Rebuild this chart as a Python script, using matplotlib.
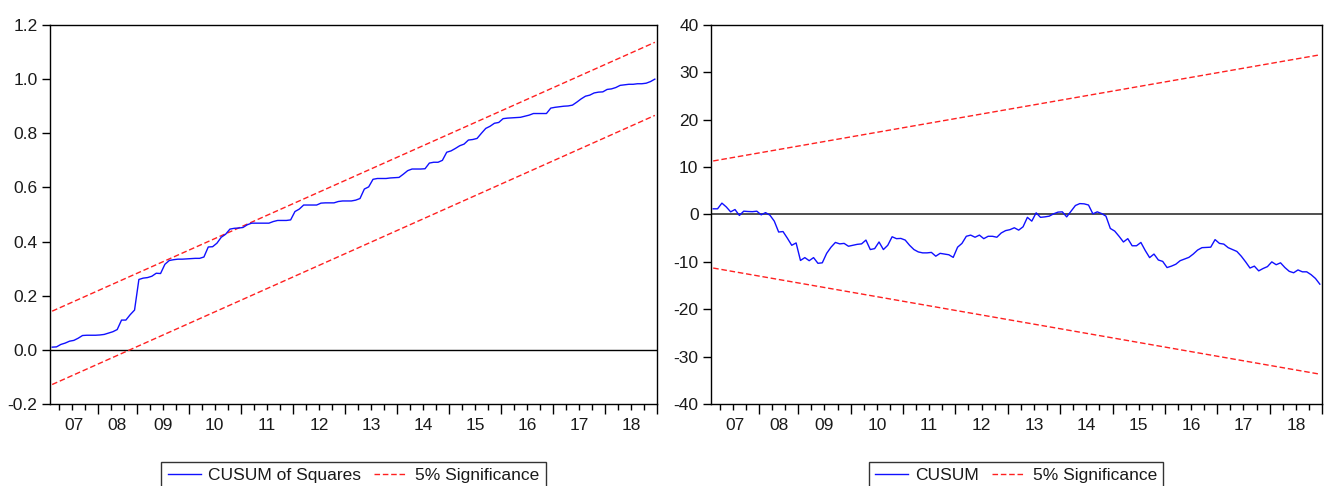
import numpy as np
import matplotlib
matplotlib.use("Agg")
import matplotlib.pyplot as plt
from matplotlib.lines import Line2D

plt.rcParams['font.family'] = ['Liberation Sans', 'DejaVu Sans']
plt.rcParams['axes.unicode_minus'] = False

# ---------------- data ----------------
year_labels = ["07", "08", "09", "10", "11", "12", "13", "14", "15", "16", "17", "18"]
# observation index at which each new year starts (end of sample = 140)
year_starts = [11, 20, 32, 44, 56, 68, 80, 92, 104, 116, 128, 140]
n_obs = 140

cusum_sq = [0.010, 0.011, 0.020, 0.025, 0.032, 0.035, 0.043, 0.053, 0.054, 0.054,
            0.054, 0.055, 0.057, 0.062, 0.067, 0.075, 0.110, 0.110, 0.130, 0.147,
            0.260, 0.265, 0.267, 0.272, 0.283, 0.282, 0.316, 0.330, 0.333, 0.335,
            0.335, 0.336, 0.337, 0.338, 0.338, 0.343, 0.380, 0.381, 0.394, 0.416,
            0.427, 0.446, 0.449, 0.450, 0.452, 0.462, 0.468, 0.468, 0.468, 0.468,
            0.468, 0.474, 0.478, 0.478, 0.478, 0.480, 0.511, 0.520, 0.535, 0.535,
            0.535, 0.535, 0.542, 0.543, 0.543, 0.543, 0.548, 0.550, 0.550, 0.550,
            0.553, 0.559, 0.594, 0.602, 0.630, 0.633, 0.633, 0.633, 0.635, 0.636,
            0.637, 0.649, 0.662, 0.668, 0.668, 0.668, 0.669, 0.690, 0.693, 0.693,
            0.700, 0.730, 0.735, 0.744, 0.754, 0.760, 0.775, 0.777, 0.781, 0.800,
            0.818, 0.826, 0.837, 0.840, 0.854, 0.856, 0.857, 0.858, 0.859, 0.863,
            0.867, 0.873, 0.873, 0.873, 0.873, 0.893, 0.896, 0.898, 0.900, 0.901,
            0.904, 0.915, 0.927, 0.937, 0.941, 0.949, 0.952, 0.953, 0.962, 0.964,
            0.969, 0.977, 0.979, 0.981, 0.981, 0.983, 0.983, 0.985, 0.991, 1.000]
cusum_sq_upper = [0.143, 1.136]   # start, end of straight 5% band
cusum_sq_lower = [-0.128, 0.866]

cusum = [1.2, 1.2, 2.4, 1.6, 0.56, 1.05, -0.2, 0.7, 0.63, 0.6,
         0.7, -0.07, 0.4, -0.14, -1.4, -3.7, -3.6, -5.0, -6.5, -6.0,
         -9.7, -9.1, -9.75, -9.1, -10.3, -10.2, -8.2, -6.9, -5.9, -6.2,
         -6.1, -6.7, -6.5, -6.3, -6.2, -5.4, -7.4, -7.2, -5.8, -7.4,
         -6.5, -4.7, -5.1, -5.05, -5.4, -6.5, -7.4, -7.9, -8.1, -8.1,
         -8.0, -8.8, -8.2, -8.35, -8.5, -9.05, -6.9, -6.1, -4.6, -4.35,
         -4.8, -4.35, -5.1, -4.6, -4.6, -4.8, -3.9, -3.4, -3.2, -2.8,
         -3.3, -2.6, -0.6, -1.4, 0.35, -0.6, -0.5, -0.35, 0.14, 0.5,
         0.56, -0.5, 0.7, 1.9, 2.3, 2.25, 2.0, 0.14, 0.56, 0.2,
         -0.35, -2.95, -3.5, -4.6, -5.8, -5.1, -6.6, -6.6, -5.9, -7.6,
         -9.1, -8.35, -9.6, -9.9, -11.2, -10.9, -10.5, -9.75, -9.4, -9.05,
         -8.35, -7.5, -7.0, -6.95, -6.9, -5.3, -6.1, -6.25, -7.0, -7.4,
         -7.8, -8.8, -10.0, -11.3, -10.9, -11.9, -11.4, -11.0, -10.0, -10.6,
         -10.2, -11.2, -12.0, -12.3, -11.7, -12.1, -12.1, -12.7, -13.5, -14.7]
cusum_upper = [11.3, 33.7]
cusum_lower = [-11.3, -33.7]

# ---------------- figure ----------------
W, H = 1325, 486
fig = plt.figure(figsize=(W / 100, H / 100), dpi=100)

def fbox(x0, x1, ytop, ybot):
    return [x0 / W, 1 - ybot / H, (x1 - x0) / W, (ybot - ytop) / H]

ax1 = fig.add_axes(fbox(50, 657, 25, 404))
ax2 = fig.add_axes(fbox(711, 1322, 25, 404))

x = np.arange(n_obs) + 0.5
xe = [x[0], x[-1]]

blue = '#1010ff'
red = '#ff2020'
dash = (0, (4, 2))
txt = '#1a1a1a'

def style(ax, yticks, fmt, zero_color, zero_lw):
    ax.set_xlim(0, n_obs)
    ax.set_ylim(yticks[0], yticks[-1])
    ax.axhline(0, color=zero_color, lw=zero_lw, zorder=1)
    ax.set_yticks(yticks)
    ax.set_yticklabels([fmt(v) for v in yticks])
    ax.set_xticks(year_starts)
    ax.set_xticklabels([])
    ax.set_xticks(np.arange(2, n_obs + 1, 3), minor=True)
    ax.tick_params(axis='x', which='major', length=7, width=1, direction='out', color='black')
    ax.tick_params(axis='x', which='minor', length=4, width=1, direction='out', color='black')
    ax.tick_params(axis='y', which='major', length=6, width=1, direction='out',
                   labelsize=12.5, pad=3, color='black', labelcolor=txt)
    for s in ax.spines.values():
        s.set_color('black')
        s.set_linewidth(1)
    bounds = [0] + year_starts
    for i, lab in enumerate(year_labels):
        mid = (bounds[i] + bounds[i + 1]) / 2
        ax.text(mid, -0.056, lab, transform=ax.get_xaxis_transform(),
                ha='center', va='center', fontsize=12.5, color=txt)

style(ax1, [-0.2, 0.0, 0.2, 0.4, 0.6, 0.8, 1.0, 1.2], lambda v: f"{v:.1f}", 'black', 1.0)
style(ax2, [-40, -30, -20, -10, 0, 10, 20, 30, 40], lambda v: f"{v:d}", '#505050', 1.4)

ax1.plot(x, cusum_sq, color=blue, lw=1.0, zorder=3)
ax1.plot(xe, cusum_sq_upper, color=red, lw=1.0, linestyle=dash, zorder=2)
ax1.plot(xe, cusum_sq_lower, color=red, lw=1.0, linestyle=dash, zorder=2)

ax2.plot(x, cusum, color=blue, lw=1.0, zorder=3)
ax2.plot(xe, cusum_upper, color=red, lw=1.0, linestyle=dash, zorder=2)
ax2.plot(xe, cusum_lower, color=red, lw=1.0, linestyle=dash, zorder=2)

def legend(label1, cx):
    handles = [Line2D([], [], color=blue, lw=1.0),
               Line2D([], [], color=red, lw=1.0, linestyle=dash)]
    lg = fig.legend(handles, [label1, "5% Significance"], ncol=2,
                    loc='upper center', bbox_to_anchor=(cx / W, 1 - 462 / H),
                    frameon=True, fancybox=False, edgecolor='black',
                    fontsize=12.5, handlelength=1.9, handletextpad=0.45,
                    columnspacing=0.75, borderpad=0.35, borderaxespad=0,
                    labelcolor=txt)
    lg.get_frame().set_linewidth(1.0)

legend("CUSUM of Squares", 353.5)
legend("CUSUM", 1016)

fig.savefig("out.png", dpi=100)
